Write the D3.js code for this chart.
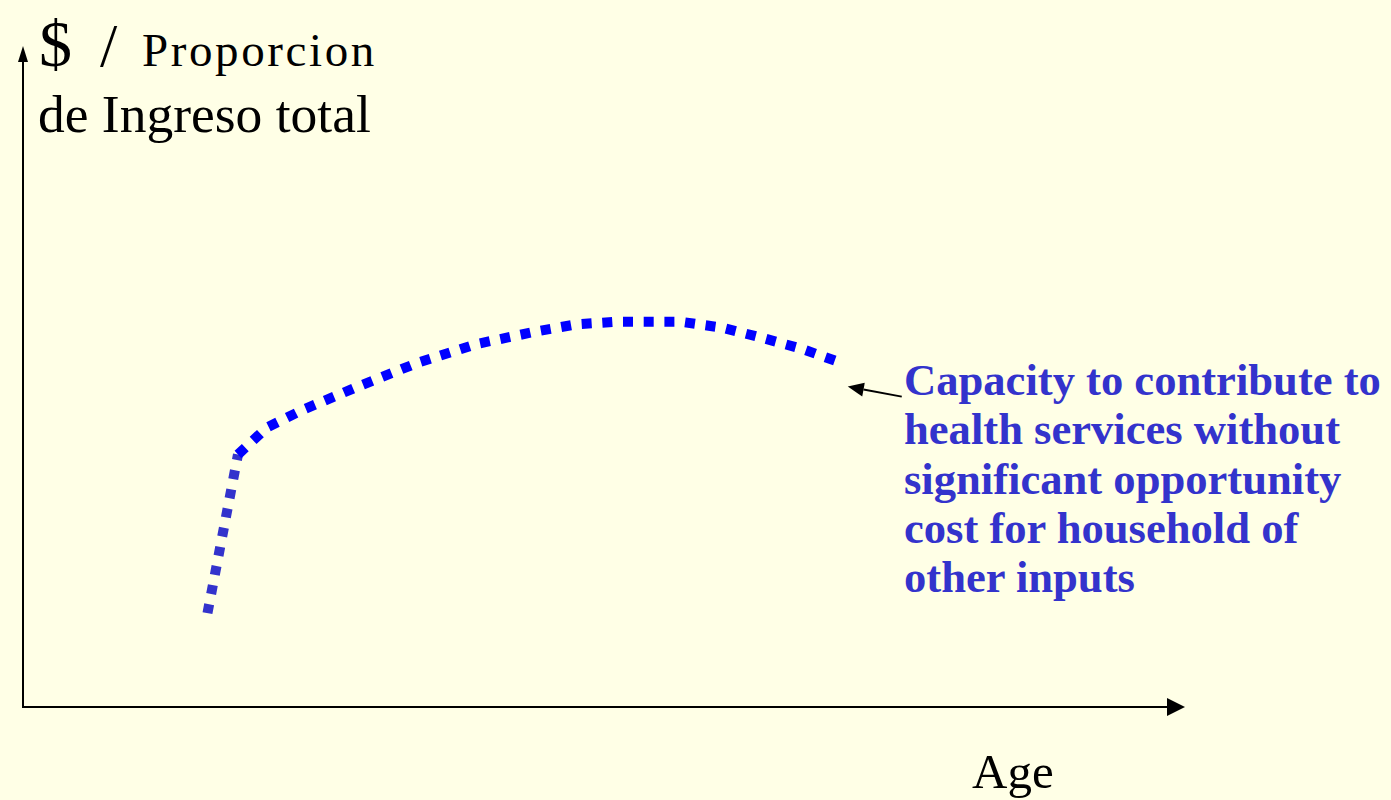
<!DOCTYPE html>
<html>
<head>
<meta charset="utf-8">
<script src="https://cdn.jsdelivr.net/npm/d3@7"></script>
<style>
  html, body { margin: 0; padding: 0; background: #FFFFE6; }
  svg { display: block; }
</style>
</head>
<body>
<svg id="chart" width="1391" height="800"></svg>
<script>
// ---- data (age in years, value in % of total income) ----
const steepAges   = [12.7, 14.8];
const steepValues = [14.2, 38.2];
const curveAges   = [14.8, 16.8, 19.3, 23.2, 27.2, 31.2, 35.3, 38.1, 41.0, 45.2, 48.1, 50.8, 53.6, 56.3];
const curveValues = [38.2, 42.3, 45.0, 48.6, 52.1, 54.9, 56.8, 57.9, 58.3, 58.3, 57.4, 55.9, 54.2, 52.1];
const xDomain = [0, 80];
const yDomain = [0, 100];
const yTitleParts = ["$", "/", "Proporcion"];
const yTitleLine2 = "de Ingreso total";
const xTitle = "Age";
const noteLines = ["Capacity to contribute to", "health services without", "significant opportunity", "cost for household of", "other inputs"];

const serif = "'Liberation Serif', 'Times New Roman', Times, serif";
const svg = d3.select("#chart");
svg.append("rect").attr("width", 1391).attr("height", 800).attr("fill", "#FFFFE6");

const x = d3.scaleLinear().domain(xDomain).range([23, 1185]);
const y = d3.scaleLinear().domain(yDomain).range([707, 46]);

// axes with arrowheads
const x0 = x(0), y0 = y(0);
const xEnd = x(xDomain[1]), yEnd = y(yDomain[1]);
svg.append("line").attr("x1", x0).attr("y1", y0).attr("x2", xEnd - 16).attr("y2", y0)
  .attr("stroke", "#000").attr("stroke-width", 2);
svg.append("path").attr("d", `M${xEnd},${y0} L${xEnd-18},${y0-9} L${xEnd-18},${y0+9} Z`).attr("fill", "#000");
svg.append("line").attr("x1", x0).attr("y1", y0 + 1).attr("x2", x0).attr("y2", yEnd + 14)
  .attr("stroke", "#000").attr("stroke-width", 2);
svg.append("path").attr("d", `M${x0},${yEnd} L${x0-5},${yEnd+16} L${x0+5},${yEnd+16} Z`).attr("fill", "#000");

// curve
const line = d3.line().x(d => x(d[0])).y(d => y(d[1]));
const steep = steepAges.map((a, i) => [a, steepValues[i]]);
const curve = curveAges.map((a, i) => [a, curveValues[i]]);
svg.append("path").attr("d", line.curve(d3.curveLinear)(steep))
  .attr("fill", "none").attr("stroke", "#3333CC").attr("stroke-width", 10)
  .attr("stroke-dasharray", "9 10.5");
svg.append("path").attr("d", line.curve(d3.curveLinear)(curve))
  .attr("fill", "none").attr("stroke", "#0000FF").attr("stroke-width", 10)
  .attr("stroke-dasharray", "10 10.7");

// y title
svg.append("text").attr("x", 39).attr("y", 66).attr("font-family", serif)
  .attr("font-size", 66).attr("fill", "#000").text(yTitleParts[0]);
svg.append("text").attr("x", 100).attr("y", 66).attr("font-family", serif)
  .attr("font-size", 62).attr("fill", "#000").text(yTitleParts[1]);
svg.append("text").attr("x", 142).attr("y", 66).attr("font-family", serif)
  .attr("font-size", 47).attr("letter-spacing", 2.6).attr("fill", "#000").text(yTitleParts[2]);
svg.append("text").attr("x", 38).attr("y", 132).attr("font-family", serif)
  .attr("font-size", 53.5).attr("fill", "#000").text(yTitleLine2);

// x title
svg.append("text").attr("x", 972).attr("y", 788).attr("font-family", serif)
  .attr("font-size", 49).attr("fill", "#000").text(xTitle);

// annotation
const last = curve[curve.length - 1];
const tipX = x(last[0]) + 7, tipY = y(last[1]) + 24;
const tailX = tipX + 54, tailY = tipY + 10;
const ang = Math.atan2(tipY - tailY, tipX - tailX);
const hl = 16, hw = 7;
const bx = tipX - hl * Math.cos(ang), by = tipY - hl * Math.sin(ang);
svg.append("line").attr("x1", tailX).attr("y1", tailY).attr("x2", bx).attr("y2", by)
  .attr("stroke", "#000").attr("stroke-width", 2);
svg.append("path").attr("d",
  `M${tipX},${tipY} L${bx + hw*Math.sin(ang)},${by - hw*Math.cos(ang)} L${bx - hw*Math.sin(ang)},${by + hw*Math.cos(ang)} Z`)
  .attr("fill", "#000");

const note = svg.append("text").attr("font-family", serif)
  .attr("font-weight", "bold").attr("font-size", 44.6).attr("fill", "#3333CC");
noteLines.forEach((t, i) => {
  note.append("tspan").attr("x", 904).attr("y", 395 + i * 49.3).text(t);
});
</script>
</body>
</html>
